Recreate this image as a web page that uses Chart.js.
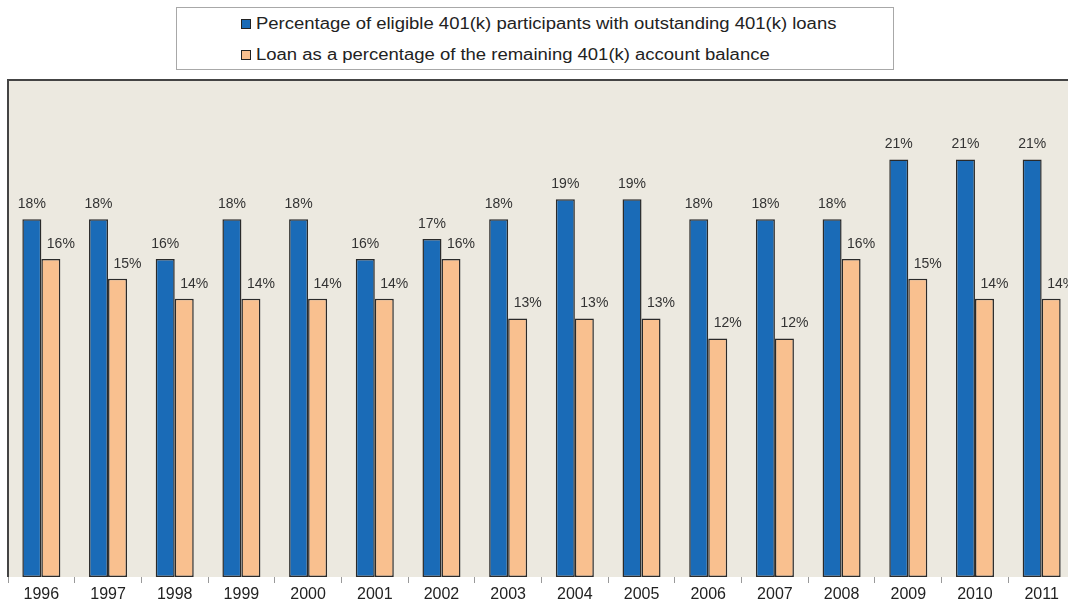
<!DOCTYPE html>
<html>
<head>
<meta charset="utf-8">
<script src="https://cdn.jsdelivr.net/npm/chart.js@4"></script>
<style>
  html, body { margin: 0; padding: 0; background: #fff; overflow: hidden; }
  body { width: 1068px; height: 605px; position: relative; font-family: "Liberation Sans", Arial, sans-serif; }
  #legend {
    position: absolute; left: 176px; top: 7px; width: 718px; height: 63px;
    border: 1px solid #a8a8a8; box-sizing: border-box; background: #fff;
  }
  .legend-row { position: absolute; left: 64px; height: 20px; font-size: 16px; line-height: 20px; color: #222; white-space: nowrap; }
  .legend-row .swatch {
    position: absolute; left: 0; top: 5px; width: 8px; height: 8px; border: 1px solid #222;
  }
  .legend-row .text {
    position: absolute; left: 15px; top: 0; transform: scaleX(1.155); transform-origin: 0 50%;
  }
  #wrap { position: absolute; left: 0; top: 0; width: 1080px; height: 605px; }
</style>
</head>
<body>
<div id="wrap"><canvas id="loan-chart" width="1080" height="605"></canvas></div>
<div id="legend"></div>
<script>
// Chart data
const years = ['1996', '1997', '1998', '1999', '2000', '2001', '2002', '2003',
               '2004', '2005', '2006', '2007', '2008', '2009', '2010', '2011'];
const participantsWithLoans = [18, 18, 16, 18, 18, 16, 17, 18, 19, 19, 18, 18, 18, 21, 21, 21];
const loanShareOfBalance = [16, 15, 14, 14, 14, 14, 16, 13, 13, 13, 12, 12, 16, 15, 14, 14];
const seriesLabels = [
    'Percentage of eligible 401(k) participants with outstanding 401(k) loans',
    'Loan as a percentage of the remaining 401(k) account balance'
];
const seriesColors = ['#1a6bb7', '#f9c08f'];

document.addEventListener('DOMContentLoaded', function() {
    // Legend box (HTML)
    const legend = document.getElementById('legend');
    seriesLabels.forEach((label, i) => {
        const row = document.createElement('div');
        row.className = 'legend-row';
        row.style.top = (i === 0 ? 6 : 37) + 'px';
        row.innerHTML = `<span class="swatch" style="background:${seriesColors[i]}"></span><span class="text">${label}</span>`;
        legend.appendChild(row);
    });

    // Plot background + top/left frame
    const plotFrame = {
        id: 'plotFrame',
        beforeDraw(chart) {
            const { ctx, chartArea: a } = chart;
            ctx.save();
            ctx.fillStyle = '#ece9e0';
            ctx.fillRect(a.left, a.top, a.right - a.left, a.bottom - a.top);
            ctx.strokeStyle = '#444';
            ctx.lineWidth = 2;
            ctx.beginPath();
            ctx.moveTo(a.left, a.bottom);
            ctx.lineTo(a.left, a.top);
            ctx.lineTo(a.right + 10, a.top);
            ctx.stroke();
            ctx.restore();
        }
    };

    // Value labels above each bar (second series sits a bit to the right)
    const valueLabels = {
        id: 'valueLabels',
        afterDatasetsDraw(chart) {
            const ctx = chart.ctx;
            ctx.save();
            ctx.font = '14px "Liberation Sans", Arial, sans-serif';
            ctx.fillStyle = '#333';
            ctx.textAlign = 'center';
            ctx.textBaseline = 'bottom';
            chart.data.datasets.forEach((ds, i) => {
                const dx = i === 1 ? 10 : 0;
                chart.getDatasetMeta(i).data.forEach((bar, j) => {
                    ctx.fillText(ds.data[j] + '%', bar.x + dx, bar.y - 8);
                });
            });
            ctx.restore();
        }
    };

    const ctx = document.getElementById('loan-chart');
    new Chart(ctx, {
        type: 'bar',
        data: {
            labels: years,
            datasets: [{
                label: seriesLabels[0],
                data: participantsWithLoans,
                backgroundColor: seriesColors[0],
                borderColor: '#2a2a2a',
                borderWidth: 1.5,
                borderSkipped: false
            }, {
                label: seriesLabels[1],
                data: loanShareOfBalance,
                backgroundColor: seriesColors[1],
                borderColor: '#2a2a2a',
                borderWidth: 1.5,
                borderSkipped: false
            }]
        },
        options: {
            responsive: false,
            animation: false,
            devicePixelRatio: 1,
            datasets: {
                bar: { categoryPercentage: 0.57, barPercentage: 1.0 }
            },
            layout: { padding: { top: 80, left: 8, right: 5, bottom: 0 } },
            plugins: {
                legend: { display: false },
                tooltip: { enabled: false }
            },
            scales: {
                x: {
                    grid: {
                        drawOnChartArea: false,
                        drawTicks: true,
                        tickLength: 6,
                        color: '#999',
                        offset: true
                    },
                    border: { display: false },
                    ticks: {
                        color: '#222',
                        font: { size: 16, family: '"Liberation Sans", Arial, sans-serif' },
                        padding: 2,
                        maxRotation: 0,
                        autoSkip: false
                    },
                    afterFit(scale) { scale.height = 28; }
                },
                y: {
                    display: false,
                    min: 0,
                    max: 25
                }
            }
        },
        plugins: [plotFrame, valueLabels]
    });
});
</script>
</body>
</html>
